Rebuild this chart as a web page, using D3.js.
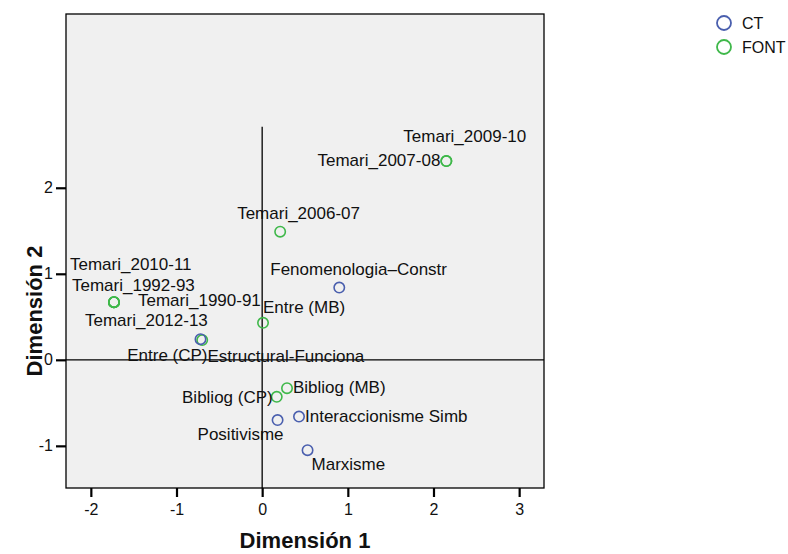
<!DOCTYPE html>
<html>
<head>
<meta charset="utf-8">
<script src="https://cdn.jsdelivr.net/npm/d3@7"></script>
<style>
body { margin: 0; background: #fff; }
text { font-family: "Liberation Sans", Arial, sans-serif; fill: #111; }
</style>
</head>
<body>
<div id="chart"></div>
<script>
// category points (Dimensión 1, Dimensión 2)
var names = ["Temari_2009-10", "Temari_2007-08", "Temari_2006-07", "Temari_2010-11", "Temari_1992-93",
  "Temari_1990-91", "Temari_2012-13", "Entre (MB)", "Entre (CP)", "Bibliog (MB)", "Bibliog (CP)",
  "Fenomenologia\u2013Constr", "Estructural-Funciona", "Interaccionisme Simb", "Positivisme", "Marxisme"];
var groups = ["FONT", "FONT", "FONT", "FONT", "FONT", "FONT", "FONT", "FONT", "FONT", "FONT", "FONT",
  "CT", "CT", "CT", "CT", "CT"];
var dim1 = [2.15, 2.15, 0.21, -1.73, -1.73, -1.73, -1.73, 0.01, -0.70, 0.29, 0.17, 0.90, -0.72, 0.43, 0.18, 0.53];
var dim2 = [2.31, 2.31, 1.49, 0.67, 0.67, 0.67, 0.67, 0.43, 0.23, -0.33, -0.43, 0.84, 0.24, -0.66, -0.70, -1.05];
var xTicks = [-2, -1, 0, 1, 2, 3];
var yTicks = [-1, 0, 1, 2];
var legendKeys = ["CT", "FONT"];

// label placement relative to the point (layout only)
var labelPos = [[-43, -19, "start"], [-6, 5, "end"], [-43, -13, "start"], [-44, -32, "start"], [-42, -11, "start"],
  [24, 4, "start"], [-29, 24, "start"], [0, -10, "start"], [-75, 21, "start"], [6, 5, "start"], [-4, 6, "end"],
  [-69, -13, "start"], [7, 23, "start"], [6, 5, "start"], [-80, 20, "start"], [4, 20, "start"]];

var width = 788, height = 554;
var pLeft = 66, pRight = 544, pTop = 14, pBottom = 488;
var color = d3.scaleOrdinal().domain(legendKeys).range(["#4a5fae", "#3fb84a"]);

var x = d3.scaleLinear().domain([-2.29, 3.29]).range([pLeft, pRight]);
var y = d3.scaleLinear().domain([-1.49, 4.02]).range([pBottom, pTop]);

var svg = d3.select("#chart").append("svg").attr("width", width).attr("height", height);

svg.append("rect").attr("x", pLeft).attr("y", pTop).attr("width", pRight - pLeft).attr("height", pBottom - pTop)
  .attr("fill", "#f0f0f0").attr("stroke", "#000").attr("stroke-width", 1.3);

// reference lines
svg.append("line").attr("x1", x(0)).attr("x2", x(0)).attr("y1", y(2.71)).attr("y2", pBottom)
  .attr("stroke", "#000").attr("stroke-width", 1.3);
svg.append("line").attr("x1", pLeft).attr("x2", pRight).attr("y1", y(0)).attr("y2", y(0))
  .attr("stroke", "#000").attr("stroke-width", 1.3);

var xAxis = svg.append("g").attr("transform", "translate(0," + pBottom + ")")
  .call(d3.axisBottom(x).tickValues(xTicks).tickSize(9).tickPadding(7).tickFormat(d3.format("d")));
var yAxis = svg.append("g").attr("transform", "translate(" + pLeft + ",0)")
  .call(d3.axisLeft(y).tickValues(yTicks).tickSize(10).tickPadding(3).tickFormat(d3.format("d")));
[xAxis, yAxis].forEach(function(a) {
  a.attr("font-size", null).attr("font-family", null);
  a.select(".domain").remove();
  a.selectAll(".tick line").attr("stroke", "#000").attr("stroke-width", 2.2);
  a.selectAll(".tick text").attr("fill", "#111")
    .style("font-size", "16px")
    .text(function(d) { return d < 0 ? "-" + Math.abs(d) : d; });
});

svg.append("text").attr("x", (pLeft + pRight) / 2).attr("y", 548).attr("text-anchor", "middle")
  .style("font-size", "22px").style("font-weight", "bold").text("Dimensión 1");
svg.append("text").attr("transform", "translate(42,311) rotate(-90)").attr("text-anchor", "middle")
  .style("font-size", "22px").style("font-weight", "bold").text("Dimensión 2");

var pts = names.map(function(n, i) {
  return { name: n, group: groups[i], d1: dim1[i], d2: dim2[i], lp: labelPos[i] };
});

svg.selectAll("circle.pt").data(pts).enter().append("circle").attr("class", "pt")
  .attr("cx", function(d) { return x(d.d1); })
  .attr("cy", function(d) { return y(d.d2); })
  .attr("r", 5.2).attr("fill", "none")
  .attr("stroke", function(d) { return color(d.group); }).attr("stroke-width", 1.6);

svg.selectAll("text.lbl").data(pts).enter().append("text").attr("class", "lbl")
  .attr("x", function(d) { return x(d.d1) + d.lp[0]; })
  .attr("y", function(d) { return y(d.d2) + d.lp[1]; })
  .attr("text-anchor", function(d) { return d.lp[2]; })
  .style("font-size", "17px")
  .text(function(d) { return d.name; });

// legend
var lg = svg.selectAll("g.lg").data(legendKeys).enter().append("g").attr("class", "lg")
  .attr("transform", function(d, i) { return "translate(724," + (23 + i * 24) + ")"; });
lg.append("circle").attr("r", 7).attr("fill", "none")
  .attr("stroke", function(d) { return color(d); }).attr("stroke-width", 1.8);
lg.append("text").attr("x", 18).attr("y", 6).style("font-size", "16px").text(function(d) { return d; });
</script>
</body>
</html>
